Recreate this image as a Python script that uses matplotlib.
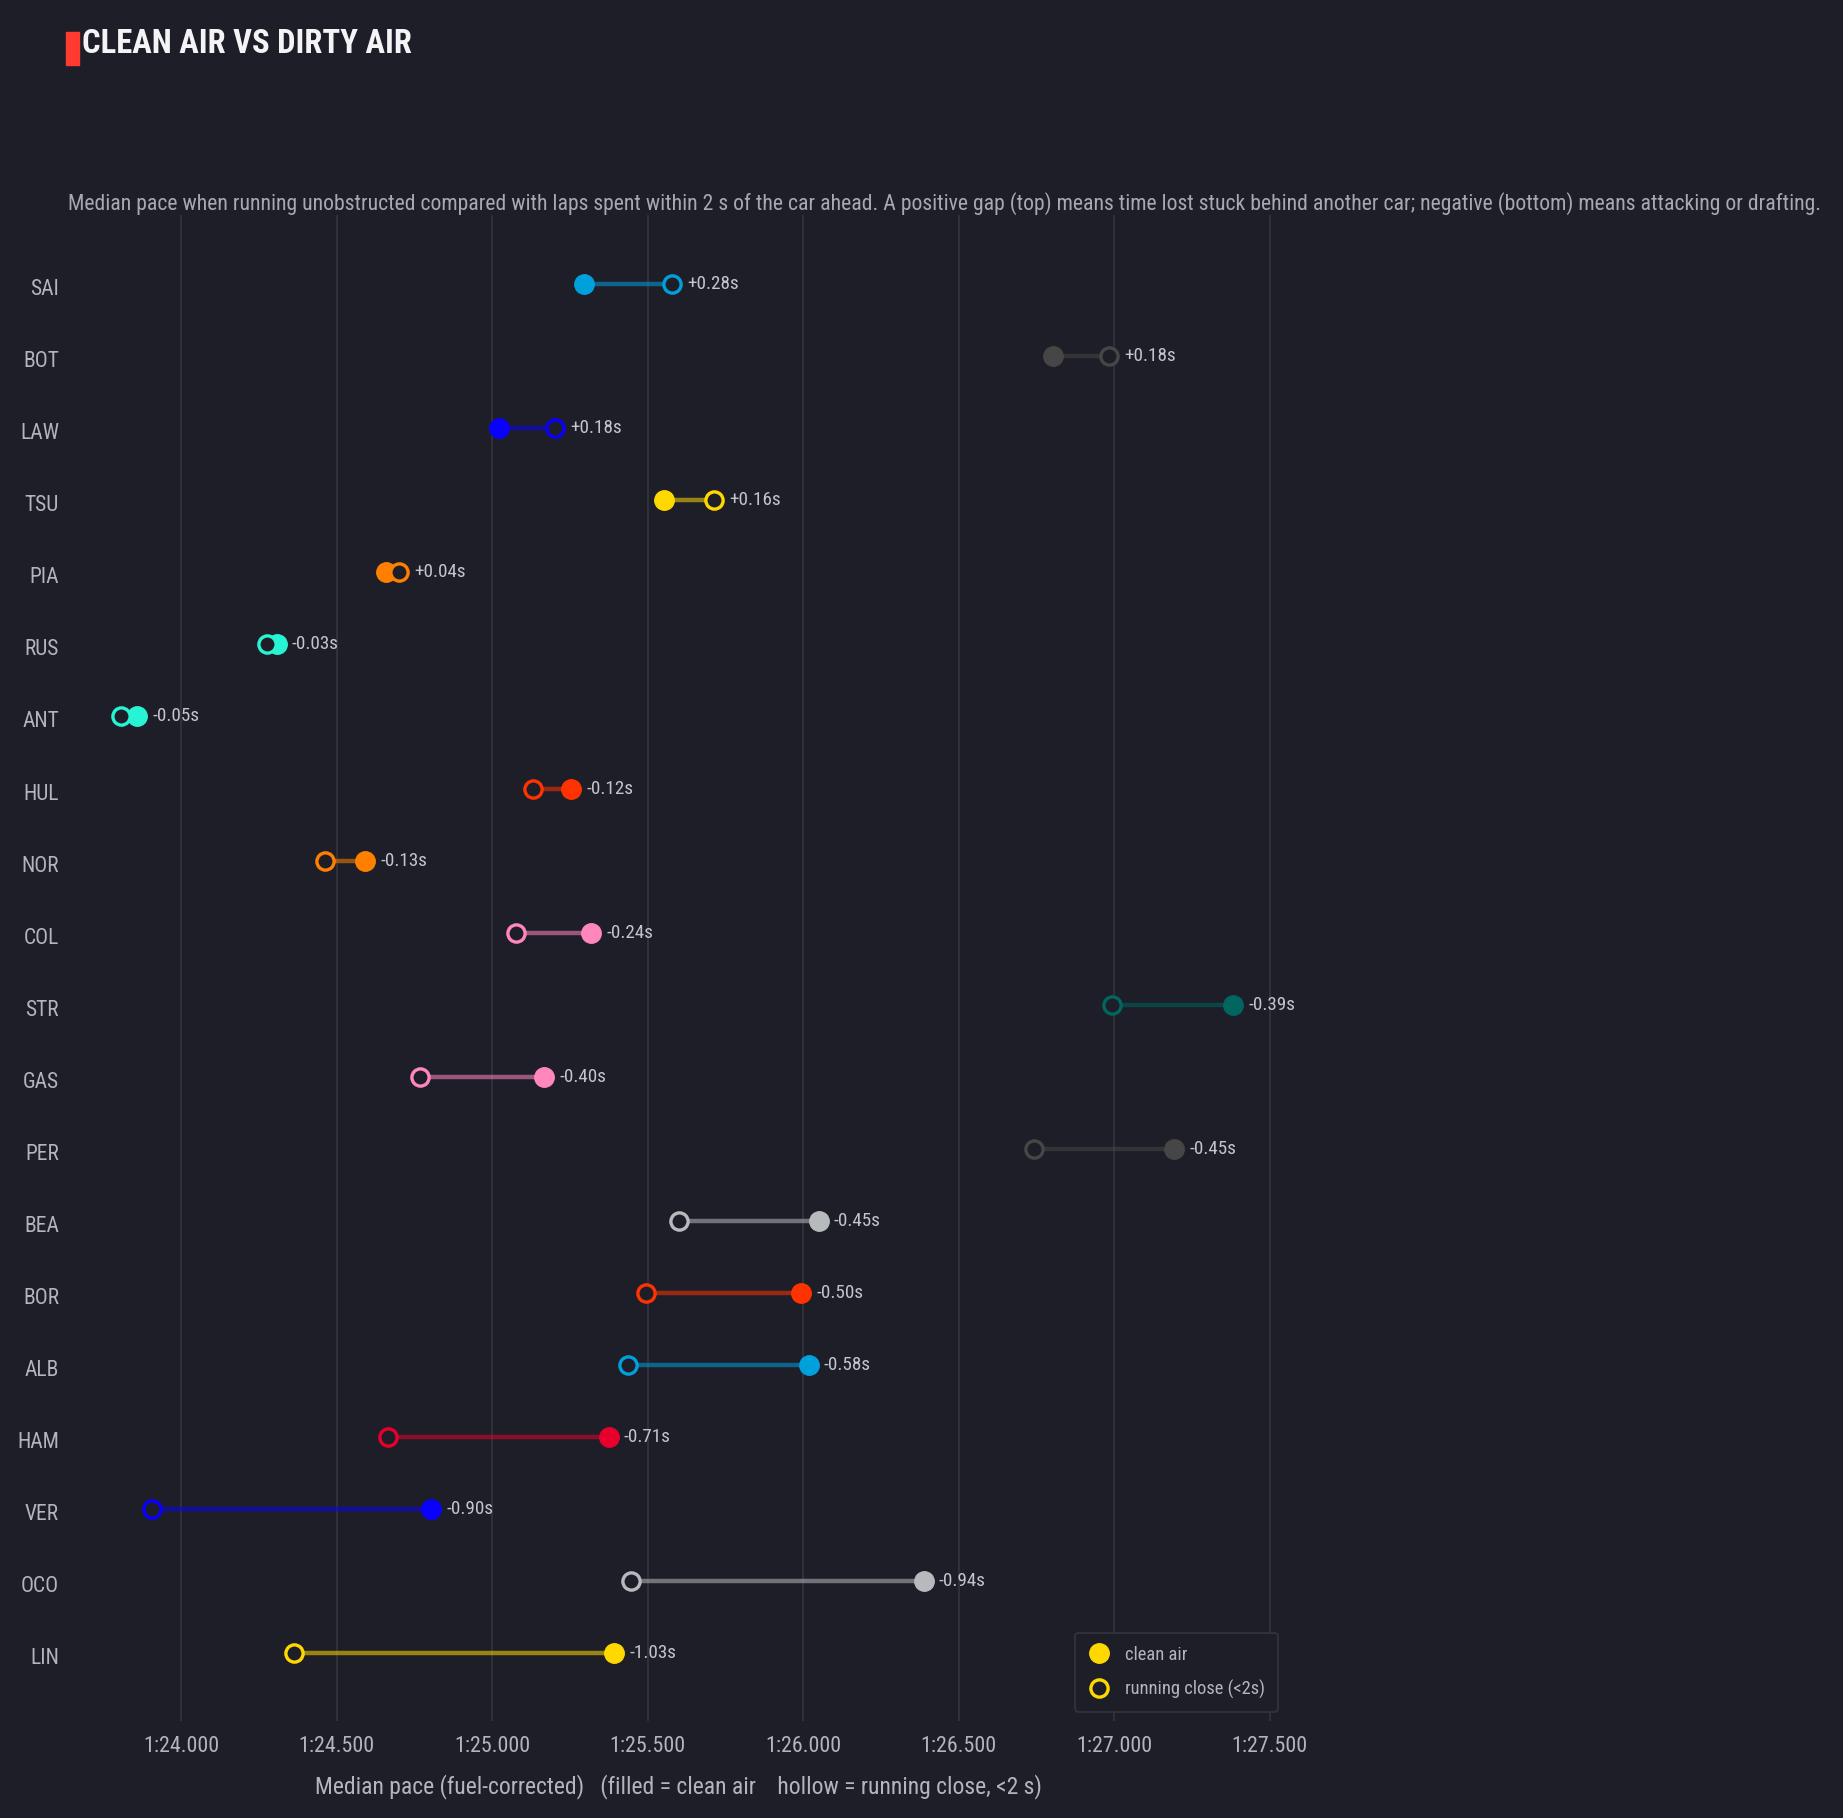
import matplotlib.pyplot as plt
from matplotlib import font_manager as fm
from matplotlib.lines import Line2D
from matplotlib.patches import Rectangle
from matplotlib.transforms import ScaledTranslation

# pick a narrow font if one is installed, else Roboto
entries = fm.fontManager.ttflist
names = {f.name for f in entries}
family, stretch = 'Roboto', 'normal'
for cand in ['Liberation Sans Narrow', 'Roboto Condensed', 'Open Sans Condensed',
             'Noto Sans Condensed', 'DejaVu Sans Condensed']:
    if cand in names:
        family = cand
        break
else:
    narrow = [f for f in entries if str(f.stretch) in ('condensed', 'semi-condensed')]
    if narrow:
        family, stretch = narrow[0].name, str(narrow[0].stretch)
    elif 'Roboto' not in names:
        family = 'DejaVu Sans'
plt.rcParams['font.family'] = [family, 'DejaVu Sans']
plt.rcParams['font.stretch'] = stretch

# drivers, top to bottom (sorted by gap)
drivers = ['SAI', 'BOT', 'LAW', 'TSU', 'PIA', 'RUS', 'ANT', 'HUL', 'NOR', 'COL',
           'STR', 'GAS', 'PER', 'BEA', 'BOR', 'ALB', 'HAM', 'VER', 'OCO', 'LIN']
# median lap time in seconds
clean_air = [85.295, 86.805, 85.022, 85.553, 84.660, 84.307, 83.858, 85.253, 84.592, 85.318,
             87.382, 85.168, 87.193, 86.050, 85.995, 86.018, 85.375, 84.805, 86.388, 85.392]
running_close = [85.577, 86.985, 85.202, 85.713, 84.700, 84.277, 83.808, 85.133, 84.462, 85.078,
                 86.992, 84.768, 86.743, 85.600, 85.495, 85.438, 84.665, 83.905, 85.448, 84.362]
team_colors = ['#00a0dd', '#464646', '#0a00ff', '#ffd800', '#ff8000', '#27f4d2', '#27f4d2',
               '#ff3300', '#ff8000', '#ff87bc', '#00665f', '#ff87bc', '#464646', '#b6babd',
               '#ff3300', '#00a0dd', '#e8002d', '#0a00ff', '#b6babd', '#ffd800']
xticks = [84.0, 84.5, 85.0, 85.5, 86.0, 86.5, 87.0, 87.5]

BG = '#1e1e28'
GRID = '#33333e'
TXT = '#b4b4bc'


def laptime(v):
    return f"{int(v // 60)}:{v % 60:06.3f}"


def fit_width(fig, txt, target_px):
    # scale a text so that it spans about target_px pixels
    fig.canvas.draw()
    w = txt.get_window_extent().width
    txt.set_fontsize(txt.get_fontsize() * target_px / w)


fig = plt.figure(figsize=(18.43, 18.18), dpi=100, facecolor=BG)
ax = fig.add_axes([0.038, 0.0535, 0.6603, 0.8282])
ax.set_facecolor(BG)

for i, (c, r, col) in enumerate(zip(clean_air, running_close, team_colors)):
    ax.plot([c, r], [i, i], color=col, alpha=0.55, lw=3.2, solid_capstyle='butt', zorder=2)
    ax.plot(c, i, 'o', ms=14, color=col, mec=col, zorder=3)
    ax.plot(r, i, 'o', ms=12.4, mfc=BG, mec=col, mew=2.4, zorder=4)
    gap = r - c
    ax.annotate(f"{gap:+.2f}s", xy=(max(c, r), i), xytext=(11, 0),
                textcoords='offset points', ha='left', va='center',
                fontsize=13.8, color='#c4c4cc')

ax.set_xlim(83.643, 87.556)
ax.set_ylim(19.94, -0.96)
ax.set_yticks(range(len(drivers)))
ax.set_yticklabels(drivers)
ax.set_xticks(xticks)
ax.set_xticklabels([laptime(v) for v in xticks])
ax.tick_params(axis='x', length=0, colors=TXT, labelsize=15.8, pad=11)
ax.tick_params(axis='y', length=0, colors=TXT, labelsize=15.5, pad=8)
ax.grid(axis='x', color=GRID, lw=1.3)
ax.grid(axis='y', visible=False)
ax.set_axisbelow(True)
for s in ax.spines.values():
    s.set_visible(False)
# driver codes sit a touch below the dots
shift = ScaledTranslation(0, -3 / 100, fig.dpi_scale_trans)
for lab in ax.get_yticklabels():
    lab.set_transform(lab.get_transform() + shift)

xlab = ax.set_xlabel('Median pace (fuel-corrected)   (filled = clean air    hollow = running close, <2 s)',
                     fontsize=15, color=TXT, labelpad=12)

# legend
handles = [
    Line2D([], [], marker='o', ls='', ms=14, color='#ffd800', label='clean air'),
    Line2D([], [], marker='o', ls='', ms=12.4, mfc=BG, mec='#ffd800', mew=2.4,
           label='running close (<2s)'),
]
leg = ax.legend(handles=handles, loc='lower right', fontsize=13.3, frameon=True,
                facecolor=BG, edgecolor=GRID, labelcolor=TXT, borderaxespad=0.5,
                labelspacing=0.85, handlelength=1.2, handletextpad=0.8, borderpad=0.7,
                framealpha=1)
leg.get_frame().set_linewidth(1.3)

# title block
fig.patches.append(Rectangle((66 / 1843, 1 - 65 / 1818), 13 / 1843, 33 / 1818,
                             transform=fig.transFigure, color='#ff3b30'))
title = fig.text(82 / 1843, 1 - 53 / 1818, 'CLEAN AIR VS DIRTY AIR', fontsize=23,
                 fontweight='bold', color='#f4f4f6', va='baseline', ha='left')
sub = fig.text(68 / 1843, 1 - 204 / 1818,
               'Median pace when running unobstructed compared with laps spent within 2 s of the car ahead. '
               'A positive gap (top) means time lost stuck behind another car; negative (bottom) means '
               'attacking or drafting.',
               fontsize=15, color='#a8a8b2', va='center', ha='left')

fit_width(fig, sub, 1755)
fit_width(fig, title, 331)
fit_width(fig, xlab, 727)

fig.savefig('out.png', dpi=100, facecolor=BG)
